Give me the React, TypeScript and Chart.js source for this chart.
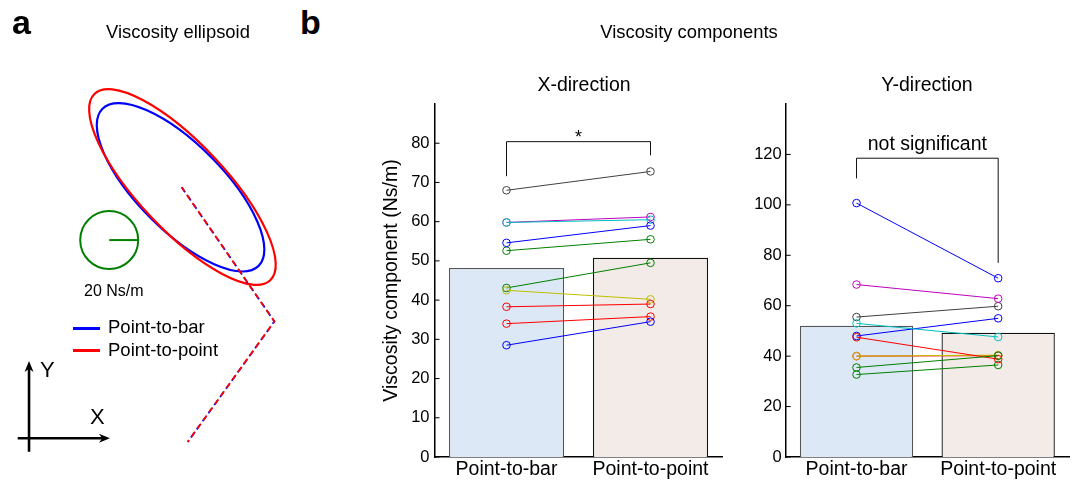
import React, { useEffect, useRef } from 'react';
import { Chart, registerables } from 'chart.js';

Chart.register(...registerables);

const FONT = '"Liberation Sans", Arial, Helvetica, sans-serif';
Chart.defaults.font.family = FONT;
Chart.defaults.color = '#000';

// ---------- panel b data ----------
const categories = ['Point-to-bar', 'Point-to-point'];
const subjectColors = ['#0000ff', '#008000', '#ff0000', '#00bfbf', '#bf00bf', '#bfbf00', '#404040', '#0000ff', '#008000', '#ff0000'];

const xDirPointToBar = [54.6, 52.6, 38.3, 59.8, 59.8, 42.5, 68.0, 28.5, 43.1, 34.0];
const xDirPointToPoint = [59.0, 55.5, 39.0, 60.5, 61.2, 40.2, 72.8, 34.5, 49.5, 35.8];
const xDirMeans = [48.2, 50.8];
const xDirTicks = [0, 10, 20, 30, 40, 50, 60, 70, 80];
const xDirSig = [71.6, 80.4, 76.9]; // left foot, top, right foot

const yDirPointToBar = [100.7, 35.5, 47.5, 53.0, 68.4, 40.0, 55.5, 48.0, 32.7, 40.0];
const yDirPointToPoint = [70.9, 40.2, 38.8, 47.6, 62.8, 40.4, 59.8, 55.0, 36.5, 40.2];
const yDirMeans = [52.1, 49.3];
const yDirTicks = [0, 20, 40, 60, 80, 100, 120];
const yDirSig = [110.5, 118.5, 77.0];

const barFills = ['#dce8f5', '#f3ebe8'];
const barEdges = ['#555555', '#111111'];

// ---------- panel a data (units: Ns/m, origin at hand position) ----------
const ellipseColors = ['#0000ff', '#ff0000'];
const ellipseCx = [-1.0, 0.3];
const ellipseCy = [-0.2, 0.0];
const ellipseMajor = [76.4, 88.3];
const ellipseMinor = [29.6, 29.9];
const ellipseAngle = [-45.2, -46.7];
const pathX = [-0.2, 63.7, 3.9];
const pathY = [-0.2, -92.7, -175.9];
const scaleCircleCenter = [-50.2, -36.6];
const scaleCircleRadius = 20;
const frameArrowX = [[-113.3, -173.3], [-49.7, -173.3]];
const frameArrowY = [[-105.5, -182.6], [-105.5, -120.0]];

type TxtProps = { x: number; y: number; size: number; align?: 'left' | 'center'; bold?: boolean; children: React.ReactNode };
const Txt = ({ x, y, size, align = 'left', bold = false, children }: TxtProps) => {
  const style: React.CSSProperties = {
    position: 'absolute',
    top: y - 0.8465 * size,
    fontSize: size,
    lineHeight: `${size}px`,
    fontFamily: FONT,
    fontWeight: bold ? 700 : 400,
    color: '#000',
    whiteSpace: 'nowrap',
  };
  if (align === 'center') {
    style.left = x - 300;
    style.width = 600;
    style.textAlign = 'center';
  } else {
    style.left = x;
  }
  return <div style={style}>{children}</div>;
};

function componentConfig(
  left: number[], right: number[], means: number[], ticks: number[], max: number,
  sig: number[], sigLabel: string, sigSize: number, sigBaseOffset: number,
  yTitle: string | null, yWidth: number, rightPad: number, tickPad: number,
): any {
  const lineSets = left.map((v, i) => ({
    type: 'line',
    data: [v, right[i]],
    borderColor: subjectColors[i],
    borderWidth: 1,
    pointRadius: 3.8,
    pointBorderWidth: 1,
    pointBorderColor: subjectColors[i],
    pointBackgroundColor: 'rgba(0,0,0,0)',
    fill: false,
    tension: 0,
  }));
  const barSet = {
    type: 'bar',
    data: means,
    backgroundColor: barFills,
    borderColor: barEdges,
    borderWidth: 1.3,
    barPercentage: 0.8,
    categoryPercentage: 1,
  };
  const decor = {
    id: 'decor',
    afterDraw(chart: any) {
      const { ctx, chartArea, scales } = chart;
      const xs = scales.x, ys = scales.y;
      ctx.save();
      // inward tick marks
      ctx.strokeStyle = '#000';
      ctx.lineWidth = 1;
      ticks.forEach((t) => {
        const py = ys.getPixelForValue(t);
        ctx.beginPath();
        ctx.moveTo(chartArea.left, py);
        ctx.lineTo(chartArea.left + 5, py);
        ctx.stroke();
      });
      // significance bracket
      const x0 = xs.getPixelForValue(0), x1 = xs.getPixelForValue(1);
      const yTop = ys.getPixelForValue(sig[1]);
      ctx.strokeStyle = '#111';
      ctx.beginPath();
      ctx.moveTo(x0, ys.getPixelForValue(sig[0]));
      ctx.lineTo(x0, yTop);
      ctx.lineTo(x1, yTop);
      ctx.lineTo(x1, ys.getPixelForValue(sig[2]));
      ctx.stroke();
      ctx.fillStyle = '#000';
      ctx.font = `${sigSize}px ${FONT}`;
      ctx.textAlign = 'center';
      ctx.textBaseline = 'alphabetic';
      ctx.fillText(sigLabel, (x0 + x1) / 2, yTop + sigBaseOffset);
      ctx.restore();
    },
  };
  return {
    type: 'bar',
    data: { labels: categories, datasets: [...lineSets, barSet] },
    options: {
      responsive: false,
      animation: false,
      devicePixelRatio: 1,
      layout: { padding: { top: 20, right: rightPad, left: 0, bottom: 0 } },
      plugins: { legend: { display: false }, tooltip: { enabled: false } },
      scales: {
        x: {
          grid: { display: false, drawTicks: false },
          border: { display: true, color: '#000', width: 1.5 },
          ticks: { font: { size: 19.5 }, color: '#000', padding: 1, maxRotation: 0, autoSkip: false },
          afterFit: (s: any) => { s.height = 24; },
        },
        y: {
          min: 0,
          max,
          grid: { display: false, drawTicks: false },
          border: { display: true, color: '#000', width: 1.5 },
          ticks: { font: { size: 16.5 }, color: '#000', padding: tickPad },
          afterBuildTicks: (ax: any) => { ax.ticks = ticks.map((v) => ({ value: v })); },
          afterFit: (s: any) => { s.width = yWidth; },
          title: yTitle
            ? { display: true, text: yTitle, font: { size: 19.5 }, color: '#000', padding: 0 }
            : { display: false },
        },
      },
    },
    plugins: [decor],
  };
}

function ellipsoidConfig(): any {
  const pxScale = 1.45;
  const ox = 182, oy = 187;
  const draw = {
    id: 'ellipsoid',
    beforeDatasetsDraw(chart: any) {
      const { ctx, scales } = chart;
      const xs = scales.x, ys = scales.y;
      ctx.save();
      ellipseColors.forEach((c, i) => {
        const cx = xs.getPixelForValue(ellipseCx[i]);
        const cy = ys.getPixelForValue(ellipseCy[i]);
        const rx = Math.abs(xs.getPixelForValue(ellipseCx[i] + ellipseMajor[i]) - cx);
        const ry = Math.abs(ys.getPixelForValue(ellipseCy[i] + ellipseMinor[i]) - cy);
        ctx.beginPath();
        ctx.ellipse(cx, cy, rx, ry, (-ellipseAngle[i] * Math.PI) / 180, 0, Math.PI * 2);
        ctx.strokeStyle = c;
        ctx.lineWidth = 2.2;
        ctx.stroke();
      });
      // scale circle
      const ccx = xs.getPixelForValue(scaleCircleCenter[0]);
      const ccy = ys.getPixelForValue(scaleCircleCenter[1]);
      const cr = Math.abs(xs.getPixelForValue(scaleCircleCenter[0] + scaleCircleRadius) - ccx);
      ctx.beginPath();
      ctx.arc(ccx, ccy, cr, 0, Math.PI * 2);
      ctx.strokeStyle = '#008000';
      ctx.lineWidth = 2;
      ctx.stroke();
      ctx.restore();
    },
    afterDraw(chart: any) {
      const { ctx, scales } = chart;
      const xs = scales.x, ys = scales.y;
      const arrow = (pts: number[][]) => {
        const x0 = xs.getPixelForValue(pts[0][0]), y0 = ys.getPixelForValue(pts[0][1]);
        const x1 = xs.getPixelForValue(pts[1][0]), y1 = ys.getPixelForValue(pts[1][1]);
        const len = Math.hypot(x1 - x0, y1 - y0);
        const ux = (x1 - x0) / len, uy = (y1 - y0) / len;
        const head = 11, half = 4.5;
        ctx.beginPath();
        ctx.moveTo(x0, y0);
        ctx.lineTo(x1 - ux * head * 0.7, y1 - uy * head * 0.7);
        ctx.stroke();
        ctx.beginPath();
        ctx.moveTo(x1, y1);
        ctx.lineTo(x1 - ux * head - uy * half, y1 - uy * head + ux * half);
        ctx.lineTo(x1 - ux * head * 0.7, y1 - uy * head * 0.7);
        ctx.lineTo(x1 - ux * head + uy * half, y1 - uy * head - ux * half);
        ctx.closePath();
        ctx.fill();
      };
      ctx.save();
      ctx.strokeStyle = '#000';
      ctx.fillStyle = '#000';
      ctx.lineWidth = 2.6;
      arrow(frameArrowX);
      arrow(frameArrowY);
      ctx.restore();
    },
  };
  const path = pathX.map((x, i) => ({ x, y: pathY[i] }));
  return {
    type: 'scatter',
    data: {
      datasets: [
        { data: path, showLine: true, borderColor: '#ff0000', borderWidth: 1.8, borderDash: [6, 4], borderDashOffset: 1, pointRadius: 0, fill: false },
        { data: path, showLine: true, borderColor: '#0000ff', borderWidth: 1.8, borderDash: [6, 4], pointRadius: 0, fill: false },
        {
          data: [
            { x: scaleCircleCenter[0], y: scaleCircleCenter[1] },
            { x: scaleCircleCenter[0] + scaleCircleRadius, y: scaleCircleCenter[1] },
          ],
          showLine: true, borderColor: '#008000', borderWidth: 2, pointRadius: 0, fill: false,
        },
      ],
    },
    options: {
      responsive: false,
      animation: false,
      devicePixelRatio: 1,
      layout: { padding: 0, autoPadding: false },
      plugins: { legend: { display: false }, tooltip: { enabled: false } },
      scales: {
        x: { type: 'linear', display: false, min: -ox / pxScale, max: (300 - ox) / pxScale },
        y: { type: 'linear', display: false, min: (oy - 481) / pxScale, max: oy / pxScale },
      },
    },
    plugins: [draw],
  };
}

function ChartCanvas({ make, left, top, width, height }: { make: () => any; left: number; top: number; width: number; height: number }) {
  const ref = useRef<HTMLCanvasElement | null>(null);
  useEffect(() => {
    const chart = new Chart(ref.current as HTMLCanvasElement, make());
    return () => chart.destroy();
  }, []);
  return (
    <canvas ref={ref} width={width} height={height}
      style={{ position: 'absolute', left, top, width, height, display: 'block' }} />
  );
}

export default function App() {
  return (
    <div style={{ position: 'absolute', left: 0, top: 0, width: 1077, height: 481, background: '#fff', overflow: 'hidden' }}>
      <ChartCanvas make={ellipsoidConfig} left={0} top={0} width={300} height={481} />
      <ChartCanvas
        make={() => componentConfig(xDirPointToBar, xDirPointToPoint, xDirMeans, xDirTicks, 90, xDirSig, '*', 18, 1.5,
          'Viscosity component (Ns/m)', 54.5, 7.5, 5)}
        left={380} top={84} width={350} height={397} />
      <ChartCanvas
        make={() => componentConfig(yDirPointToBar, yDirPointToPoint, yDirMeans, yDirTicks, 140, yDirSig, 'not significant', 19.5, -8,
          null, 45.7, 8, 4)}
        left={740} top={84} width={337} height={397} />

      <Txt x={12} y={34} size={34} bold>a</Txt>
      <Txt x={300} y={34} size={34} bold>b</Txt>
      <Txt x={178} y={39} size={18.4} align="center">Viscosity ellipsoid</Txt>
      <Txt x={689} y={39} size={18.4} align="center">Viscosity components</Txt>
      <Txt x={584} y={92} size={19.5} align="center">X-direction</Txt>
      <Txt x={927} y={92} size={19.5} align="center">Y-direction</Txt>

      <Txt x={84} y={296.5} size={16}>20 Ns/m</Txt>
      <div style={{ position: 'absolute', left: 73, top: 326.8, width: 27, height: 3, background: '#0000ff' }} />
      <div style={{ position: 'absolute', left: 73, top: 348.5, width: 27, height: 3, background: '#ff0000' }} />
      <Txt x={108} y={334} size={18.5}>Point-to-bar</Txt>
      <Txt x={108} y={356.5} size={18.5}>Point-to-point</Txt>
      <Txt x={40} y={378} size={22}>Y</Txt>
      <Txt x={90} y={425} size={22}>X</Txt>
    </div>
  );
}
